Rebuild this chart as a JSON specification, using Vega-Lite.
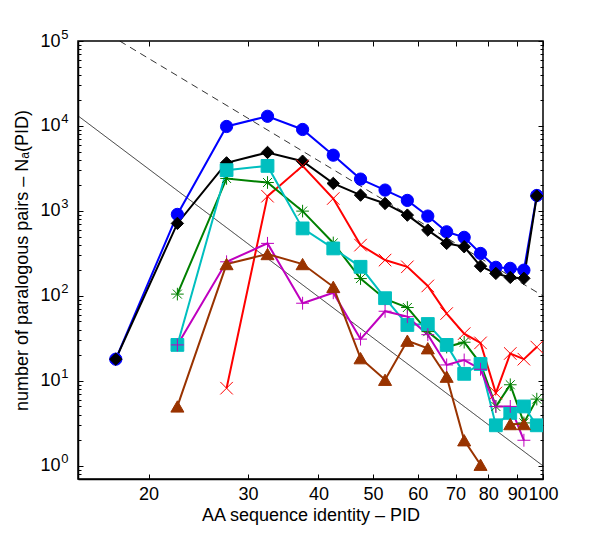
{
  "$schema": "https://vega.github.io/schema/vega-lite/v6.json",
  "autosize": {"type": "none"},
  "width": 465,
  "height": 438,
  "padding": {"left": 78, "top": 41, "right": 57, "bottom": 61},
  "background": "white",
  "config": {
    "font": "Liberation Sans",
    "view": {"stroke": "black", "strokeWidth": 1.5},
    "axis": {
      "grid": false,
      "domainColor": "black",
      "domainWidth": 1.5,
      "tickColor": "black",
      "tickWidth": 1,
      "labelFont": "Liberation Sans",
      "labelFontSize": 18,
      "labelColor": "black",
      "titleFont": "Liberation Sans",
      "titleFontSize": 18,
      "titleFontWeight": "normal",
      "titleColor": "black"
    }
  },
  "datasets": {
    "refs": [
      {"r": "dash", "x": 17.78, "y": 100000},
      {"r": "dash", "x": 100, "y": 100},
      {"r": "solid", "x": 15, "y": 13169},
      {"r": "solid", "x": 100, "y": 1}
    ],
    "series": [
      {"s": "S1", "seg": 1, "x": 17.5, "y": 18},
      {"s": "S1", "seg": 1, "x": 22.5, "y": 910},
      {"s": "S1", "seg": 1, "x": 27.5, "y": 9860},
      {"s": "S1", "seg": 1, "x": 32.5, "y": 13000},
      {"s": "S1", "seg": 1, "x": 37.5, "y": 9090},
      {"s": "S1", "seg": 1, "x": 42.5, "y": 4530},
      {"s": "S1", "seg": 1, "x": 47.5, "y": 2370},
      {"s": "S1", "seg": 1, "x": 52.5, "y": 1760},
      {"s": "S1", "seg": 1, "x": 57.5, "y": 1330},
      {"s": "S1", "seg": 1, "x": 62.5, "y": 870},
      {"s": "S1", "seg": 1, "x": 67.5, "y": 568},
      {"s": "S1", "seg": 1, "x": 72.5, "y": 489},
      {"s": "S1", "seg": 1, "x": 77.5, "y": 316},
      {"s": "S1", "seg": 1, "x": 82.5, "y": 217},
      {"s": "S1", "seg": 1, "x": 87.5, "y": 211},
      {"s": "S1", "seg": 1, "x": 92.5, "y": 201},
      {"s": "S1", "seg": 1, "x": 97.5, "y": 1520},
      {"s": "S2", "seg": 1, "x": 17.5, "y": 18},
      {"s": "S2", "seg": 1, "x": 22.5, "y": 713},
      {"s": "S2", "seg": 1, "x": 27.5, "y": 3680},
      {"s": "S2", "seg": 1, "x": 32.5, "y": 4880},
      {"s": "S2", "seg": 1, "x": 37.5, "y": 3850},
      {"s": "S2", "seg": 1, "x": 42.5, "y": 2110},
      {"s": "S2", "seg": 1, "x": 47.5, "y": 1535},
      {"s": "S2", "seg": 1, "x": 52.5, "y": 1225},
      {"s": "S2", "seg": 1, "x": 57.5, "y": 893},
      {"s": "S2", "seg": 1, "x": 62.5, "y": 595},
      {"s": "S2", "seg": 1, "x": 67.5, "y": 415},
      {"s": "S2", "seg": 1, "x": 72.5, "y": 379},
      {"s": "S2", "seg": 1, "x": 77.5, "y": 224},
      {"s": "S2", "seg": 1, "x": 82.5, "y": 184},
      {"s": "S2", "seg": 1, "x": 87.5, "y": 165},
      {"s": "S2", "seg": 1, "x": 92.5, "y": 161},
      {"s": "S2", "seg": 1, "x": 97.5, "y": 1500},
      {"s": "S3", "seg": 1, "x": 27.5, "y": 8.2},
      {"s": "S3", "seg": 1, "x": 32.5, "y": 1490},
      {"s": "S3", "seg": 1, "x": 37.5, "y": 3400},
      {"s": "S3", "seg": 1, "x": 42.5, "y": 1400},
      {"s": "S3", "seg": 1, "x": 47.5, "y": 396},
      {"s": "S3", "seg": 1, "x": 52.5, "y": 264},
      {"s": "S3", "seg": 1, "x": 57.5, "y": 220},
      {"s": "S3", "seg": 1, "x": 62.5, "y": 131},
      {"s": "S3", "seg": 1, "x": 67.5, "y": 62},
      {"s": "S3", "seg": 1, "x": 72.5, "y": 36},
      {"s": "S3", "seg": 1, "x": 77.5, "y": 28},
      {"s": "S3", "seg": 1, "x": 82.5, "y": 7.2},
      {"s": "S3", "seg": 1, "x": 87.5, "y": 21},
      {"s": "S3", "seg": 1, "x": 92.5, "y": 18},
      {"s": "S3", "seg": 1, "x": 97.5, "y": 25},
      {"s": "S4", "seg": 1, "x": 22.5, "y": 105},
      {"s": "S4", "seg": 1, "x": 27.5, "y": 2410},
      {"s": "S4", "seg": 1, "x": 32.5, "y": 2160},
      {"s": "S4", "seg": 1, "x": 37.5, "y": 995},
      {"s": "S4", "seg": 1, "x": 42.5, "y": 420},
      {"s": "S4", "seg": 1, "x": 47.5, "y": 160},
      {"s": "S4", "seg": 1, "x": 52.5, "y": 92},
      {"s": "S4", "seg": 1, "x": 57.5, "y": 73},
      {"s": "S4", "seg": 1, "x": 62.5, "y": 38},
      {"s": "S4", "seg": 1, "x": 67.5, "y": 25},
      {"s": "S4", "seg": 1, "x": 72.5, "y": 28.5},
      {"s": "S4", "seg": 1, "x": 77.5, "y": 16},
      {"s": "S4", "seg": 1, "x": 82.5, "y": 5.0},
      {"s": "S4", "seg": 1, "x": 87.5, "y": 9.0},
      {"s": "S4", "seg": 1, "x": 92.5, "y": 3.2},
      {"s": "S4", "seg": 1, "x": 97.5, "y": 6.1},
      {"s": "S5", "seg": 1, "x": 22.5, "y": 26.5},
      {"s": "S5", "seg": 1, "x": 27.5, "y": 3020},
      {"s": "S5", "seg": 1, "x": 32.5, "y": 3390},
      {"s": "S5", "seg": 1, "x": 37.5, "y": 623},
      {"s": "S5", "seg": 1, "x": 42.5, "y": 362},
      {"s": "S5", "seg": 1, "x": 47.5, "y": 220},
      {"s": "S5", "seg": 1, "x": 52.5, "y": 94},
      {"s": "S5", "seg": 1, "x": 57.5, "y": 45.5},
      {"s": "S5", "seg": 1, "x": 62.5, "y": 46.7},
      {"s": "S5", "seg": 1, "x": 67.5, "y": 26.5},
      {"s": "S5", "seg": 1, "x": 72.5, "y": 12.1},
      {"s": "S5", "seg": 1, "x": 77.5, "y": 15.8},
      {"s": "S5", "seg": 1, "x": 82.5, "y": 3.0},
      {"s": "S5", "seg": 1, "x": 87.5, "y": 4.2},
      {"s": "S5", "seg": 1, "x": 92.5, "y": 5.0},
      {"s": "S5", "seg": 1, "x": 97.5, "y": 3.0},
      {"s": "S6", "seg": 1, "x": 22.5, "y": 26.5},
      {"s": "S6", "seg": 1, "x": 27.5, "y": 252},
      {"s": "S6", "seg": 1, "x": 32.5, "y": 415},
      {"s": "S6", "seg": 1, "x": 37.5, "y": 82},
      {"s": "S6", "seg": 1, "x": 42.5, "y": 109},
      {"s": "S6", "seg": 1, "x": 47.5, "y": 31},
      {"s": "S6", "seg": 1, "x": 52.5, "y": 66},
      {"s": "S6", "seg": 1, "x": 57.5, "y": 57},
      {"s": "S6", "seg": 1, "x": 62.5, "y": 35},
      {"s": "S6", "seg": 1, "x": 67.5, "y": 15.4},
      {"s": "S6", "seg": 1, "x": 72.5, "y": 17.6},
      {"s": "S6", "seg": 1, "x": 77.5, "y": 13.7},
      {"s": "S6", "seg": 1, "x": 82.5, "y": 5.0},
      {"s": "S6", "seg": 1, "x": 87.5, "y": 5.0},
      {"s": "S6", "seg": 1, "x": 92.5, "y": 2.0},
      {"s": "S7", "seg": 1, "x": 22.5, "y": 5.0},
      {"s": "S7", "seg": 1, "x": 27.5, "y": 237},
      {"s": "S7", "seg": 1, "x": 32.5, "y": 311},
      {"s": "S7", "seg": 1, "x": 37.5, "y": 237},
      {"s": "S7", "seg": 1, "x": 42.5, "y": 128},
      {"s": "S7", "seg": 1, "x": 47.5, "y": 18.5},
      {"s": "S7", "seg": 1, "x": 52.5, "y": 10.3},
      {"s": "S7", "seg": 1, "x": 57.5, "y": 29.7},
      {"s": "S7", "seg": 1, "x": 62.5, "y": 24.2},
      {"s": "S7", "seg": 1, "x": 67.5, "y": 11.2},
      {"s": "S7", "seg": 1, "x": 72.5, "y": 2.0},
      {"s": "S7", "seg": 1, "x": 77.5, "y": 1.03},
      {"s": "S7", "seg": 2, "x": 87.5, "y": 3.1},
      {"s": "S7", "seg": 2, "x": 92.5, "y": 3.1}
    ]
  },
  "resolve": {"axis": {"x": "independent", "y": "independent"}},
  "layer": [
    {
      "data": {"name": "refs"},
      "mark": {"type": "line", "color": "black", "strokeWidth": 0.8, "clip": true},
      "encoding": {
        "x": {
          "field": "x", "type": "quantitative",
          "scale": {"type": "log", "domain": [15, 100], "nice": false},
          "axis": {
            "orient": "bottom",
            "values": [20, 30, 40, 50, 60, 70, 80, 90, 100],
            "format": "d",
            "labelOverlap": false,
            "labelFlush": false,
            "tickSize": -5,
            "labelPadding": 11,
            "title": "AA sequence identity – PID",
            "titlePadding": 3
          }
        },
        "y": {
          "field": "y", "type": "quantitative",
          "scale": {"type": "log", "domain": [0.7, 100000], "nice": false},
          "axis": {
            "orient": "left",
            "values": [0.8, 0.9, 1, 2, 3, 4, 5, 6, 7, 8, 9, 10, 20, 30, 40, 50, 60, 70, 80, 90, 100, 200, 300, 400, 500, 600, 700, 800, 900, 1000, 2000, 3000, 4000, 5000, 6000, 7000, 8000, 9000, 10000, 20000, 30000, 40000, 50000, 60000, 70000, 80000, 90000, 100000],
            "labelExpr": "indexof([1,10,100,1000,10000,100000], datum.value) >= 0 ? '10' : ''",
            "labelOverlap": false,
            "labelFlush": false,
            "tickSize": {"condition": {"test": "indexof([1,10,100,1000,10000,100000], datum.value) >= 0", "value": -5}, "value": -3},
            "labelPadding": 23,
            "title": "number of paralogous pairs – Nₐ(PID)",
            "titlePadding": 8
          }
        },
        "strokeDash": {
          "field": "r", "type": "nominal",
          "scale": {"domain": ["dash", "solid"], "range": [[7, 5], [1, 0]]},
          "legend": null
        }
      }
    },
    {
      "data": {"name": "series"},
      "mark": {"type": "line", "strokeWidth": 2, "clip": true},
      "encoding": {
        "x": {
          "field": "x", "type": "quantitative",
          "scale": {"type": "log", "domain": [15, 100], "nice": false},
          "axis": {
            "orient": "top",
            "values": [20, 30, 40, 50, 60, 70, 80, 90, 100],
            "labels": false,
            "domain": false,
            "tickSize": -5,
            "title": null
          }
        },
        "y": {
          "field": "y", "type": "quantitative",
          "scale": {"type": "log", "domain": [0.7, 100000], "nice": false},
          "axis": {
            "orient": "right",
            "values": [0.8, 0.9, 1, 2, 3, 4, 5, 6, 7, 8, 9, 10, 20, 30, 40, 50, 60, 70, 80, 90, 100, 200, 300, 400, 500, 600, 700, 800, 900, 1000, 2000, 3000, 4000, 5000, 6000, 7000, 8000, 9000, 10000, 20000, 30000, 40000, 50000, 60000, 70000, 80000, 90000, 100000],
            "labels": false,
            "domain": false,
            "tickSize": {"condition": {"test": "indexof([1,10,100,1000,10000,100000], datum.value) >= 0", "value": -5}, "value": -3},
            "title": null
          }
        },
        "stroke": {
          "field": "s", "type": "nominal",
          "scale": {"domain": ["S1", "S2", "S3", "S4", "S5", "S6", "S7"], "range": ["#0000ff", "#000000", "#ff0000", "#008000", "#00bfbf", "#bf00bf", "#993300"]},
          "legend": null
        },
        "detail": {"field": "seg", "type": "nominal"}
      }
    },
    {
      "data": {"name": "series"},
      "mark": {"type": "point", "filled": false, "opacity": 1, "clip": true},
      "encoding": {
        "x": {"field": "x", "type": "quantitative", "scale": {"type": "log", "domain": [15, 100], "nice": false}, "axis": null},
        "y": {
          "field": "y", "type": "quantitative",
          "scale": {"type": "log", "domain": [0.7, 100000], "nice": false},
          "axis": {
            "orient": "left",
            "values": [1, 10, 100, 1000, 10000, 100000],
            "labelExpr": "datum.value == 1 ? '0' : datum.value == 10 ? '1' : datum.value == 100 ? '2' : datum.value == 1000 ? '3' : datum.value == 10000 ? '4' : '5'",
            "labelFontSize": 13,
            "labelOffset": -7,
            "labelPadding": 10,
            "labelOverlap": false,
            "labelFlush": false,
            "ticks": false,
            "domain": false,
            "title": null
          }
        },
        "stroke": {"field": "s", "type": "nominal", "legend": null},
        "fill": {
          "field": "s", "type": "nominal",
          "scale": {"domain": ["S1", "S2", "S3", "S4", "S5", "S6", "S7"], "range": ["#0000ff", "#000000", "transparent", "transparent", "#00bfbf", "transparent", "#993300"]},
          "legend": null
        },
        "shape": {
          "field": "s", "type": "nominal",
          "scale": {"domain": ["S1", "S2", "S3", "S4", "S5", "S6", "S7"], "range": ["circle", "diamond", "M-1,-1L1,1M-1,1L1,-1", "M-1,0L1,0M0,-1L0,1M-0.71,-0.71L0.71,0.71M-0.71,0.71L0.71,-0.71", "square", "M-1,0L1,0M0,-1L0,1", "triangle-up"]},
          "legend": null
        },
        "size": {
          "field": "s", "type": "nominal",
          "scale": {"domain": ["S1", "S2", "S3", "S4", "S5", "S6", "S7"], "range": [150, 170, 70, 100, 100, 260, 200]},
          "legend": null
        },
        "strokeWidth": {
          "field": "s", "type": "nominal",
          "scale": {"domain": ["S1", "S2", "S3", "S4", "S5", "S6", "S7"], "range": [1, 1, 2, 1.8, 1, 2.2, 1]},
          "legend": null
        }
      }
    }
  ]
}
